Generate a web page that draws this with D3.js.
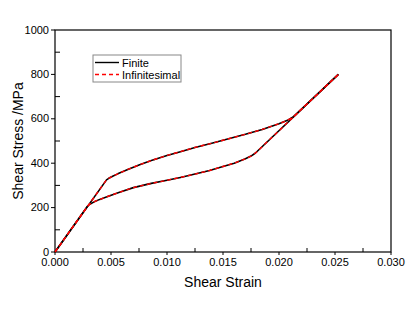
<!DOCTYPE html>
<html><head><meta charset="utf-8">
<script src="https://cdn.jsdelivr.net/npm/d3@7"></script>
<style>body{margin:0;background:#fff}svg{display:block}text{font-family:"Liberation Sans",Arial,sans-serif}</style>
</head><body><svg id="c" width="415" height="312"></svg>
<script>
// Loading branch (strain, stress MPa)
const loadStrain = [0, 0.0046, 0.0048, 0.0051, 0.0056, 0.0065, 0.0075, 0.0086, 0.0100, 0.0112, 0.0125, 0.0140, 0.0155, 0.0170, 0.0185, 0.0200, 0.0207, 0.0213, 0.0253];
const loadStress = [0, 325, 332, 340, 352, 372, 392, 412, 435, 452, 471, 490, 510, 530, 552, 578, 592, 610, 800];
// Unloading branch
const unloadStrain = [0.0253, 0.0179, 0.0175, 0.0170, 0.0160, 0.0150, 0.0138, 0.0125, 0.0112, 0.0100, 0.0086, 0.0070, 0.0057, 0.0047, 0.0040, 0.0035, 0.0031, 0.0029, 0];
const unloadStress = [800, 446, 432, 420, 400, 385, 367, 351, 336, 323, 309, 290, 268, 250, 237, 226, 215, 206, 0];
const xTicks = [0, 0.005, 0.010, 0.015, 0.020, 0.025, 0.030];
const yTicks = [0, 200, 400, 600, 800, 1000];
const seriesNames = ["Finite", "Infinitesimal"];

const svg = d3.select("#c");
const L = 55, R = 391, T = 30, B = 252;
const x = d3.scaleLinear().domain([0, 0.030]).range([L, R]);
const y = d3.scaleLinear().domain([0, 1000]).range([B, T]);

// frame
svg.append("rect").attr("x", L).attr("y", T).attr("width", R - L).attr("height", B - T)
  .attr("fill", "none").attr("stroke", "#000").attr("stroke-width", 1.2);

// x axis ticks
const xMinor = d3.range(0.0025, 0.030, 0.005);
svg.append("g").selectAll("line").data(xMinor).join("line")
  .attr("x1", d => x(d)).attr("x2", d => x(d)).attr("y1", B).attr("y2", B - 4)
  .attr("stroke", "#000").attr("stroke-width", 1);
svg.append("g").selectAll("line").data(xTicks).join("line")
  .attr("x1", d => x(d)).attr("x2", d => x(d)).attr("y1", B).attr("y2", B + 3)
  .attr("stroke", "#000").attr("stroke-width", 1);
svg.append("g").selectAll("text").data(xTicks).join("text")
  .attr("x", d => x(d)).attr("y", 266).attr("text-anchor", "middle")
  .attr("font-size", 11).attr("fill", "#000").text(d => d3.format(".3f")(d));

// y axis ticks
const yMinor = d3.range(100, 1000, 200);
svg.append("g").selectAll("line").data(yMinor).join("line")
  .attr("x1", L).attr("x2", L + 5).attr("y1", d => y(d)).attr("y2", d => y(d))
  .attr("stroke", "#000").attr("stroke-width", 1);
svg.append("g").selectAll("line").data(yTicks).join("line")
  .attr("x1", L - 4).attr("x2", L).attr("y1", d => y(d)).attr("y2", d => y(d))
  .attr("stroke", "#000").attr("stroke-width", 1);
svg.append("g").selectAll("text").data(yTicks).join("text")
  .attr("x", 49).attr("y", d => y(d) + 3.5).attr("text-anchor", "end")
  .attr("font-size", 11).attr("fill", "#000").text(d => d);

// titles
svg.append("text").attr("x", (L + R) / 2).attr("y", 287).attr("text-anchor", "middle")
  .attr("font-size", 14).text("Shear Strain");
svg.append("text").attr("transform", `translate(23,${(T + B) / 2}) rotate(-90)`)
  .attr("text-anchor", "middle").attr("font-size", 14).text("Shear Stress /MPa");

// curves
const line = d3.line().x(d => x(d[0])).y(d => y(d[1])).curve(d3.curveLinear);
const loadPts = loadStrain.map((s, i) => [s, loadStress[i]]);
const unloadPts = unloadStrain.map((s, i) => [s, unloadStress[i]]);
const paths = [line(loadPts), line(unloadPts)];
paths.forEach(p => {
  svg.append("path").attr("d", p).attr("fill", "none").attr("stroke", "#000")
    .attr("stroke-width", 1.6).attr("stroke-linejoin", "round");
});
paths.forEach(p => {
  svg.append("path").attr("d", p).attr("fill", "none").attr("stroke", "#ff0000").attr("stroke-width", 1.4)
    .attr("stroke-dasharray", "4,3").attr("stroke-linejoin", "round");
});

// legend
const lg = svg.append("g");
lg.append("rect").attr("x", 93).attr("y", 55).attr("width", 88).attr("height", 27)
  .attr("fill", "#fff").attr("stroke", "#888").attr("stroke-width", 1);
seriesNames.forEach((n, i) => {
  const yy = 62.5 + i * 12;
  lg.append("line").attr("x1", 95).attr("x2", 119).attr("y1", yy).attr("y2", yy)
    .attr("stroke", i === 0 ? "#000" : "#ff0000").attr("stroke-width", 1.4)
    .attr("stroke-dasharray", i === 0 ? null : "4,3");
  lg.append("text").attr("x", 122).attr("y", yy + 4).attr("font-size", 11).text(n);
});
</script></body></html>
